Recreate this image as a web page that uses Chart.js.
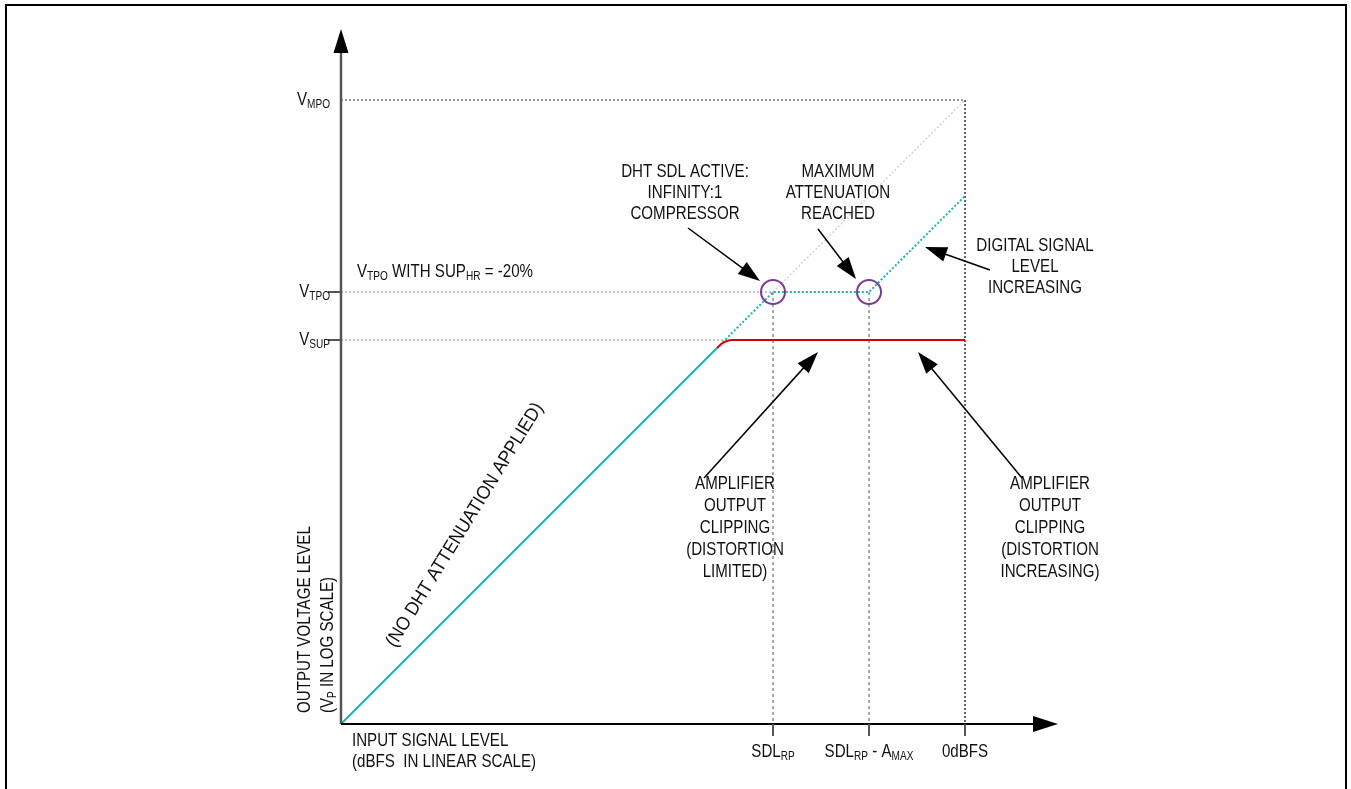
<!DOCTYPE html>
<html>
<head>
<meta charset="utf-8">
<script src="https://cdn.jsdelivr.net/npm/chart.js@4"></script>
<style>
  html, body { margin: 0; background: #fff; }
  canvas { display: block; }
</style>
</head>
<body>
<canvas id="chart" width="1351" height="789"></canvas>
<script>
// both axes in drawing units: x = input level, y = output level
const noAttenX = [0, 376];
const noAttenY = [0, 376];
const clipX = [376, 381, 386, 392, 400, 624];
const clipY = [376, 380.5, 383, 384, 384, 384];
const digitalX = [376, 432, 528, 624];
const digitalY = [376, 432, 432, 528];
const unlimitedX = [432, 624];
const unlimitedY = [432, 624];

const xTickValues = [432, 528, 624];
const xTickLabels = ['SDL_{RP}', 'SDL_{RP} - A_{MAX}', '0dBFS'];
const yTickValues = [624, 432, 384];
const yTickLabels = ['V_{MPO}', 'V_{TPO}', 'V_{SUP}'];

const FONT = '"Liberation Sans Narrow", "Liberation Sans", Arial, sans-serif';
const NARROW = 0.84; // no narrow face installed, squeeze the regular one
const TEAL = '#1ab3ad';
const RED = '#d40000';

const pts = (xs, ys) => xs.map((x, i) => ({ x, y: ys[i] }));

// annotation boxes: text centre and arrow tail -> tip, in axis units
const notes = [
  { lines: ['DHT SDL ACTIVE:', 'INFINITY:1', 'COMPRESSOR'], x: 344, y: 552, step: 21, from: [347, 496], to: [419, 443] },
  { lines: ['MAXIMUM', 'ATTENUATION', 'REACHED'], x: 497, y: 552, step: 21, from: [477, 495], to: [515, 445] },
  { lines: ['DIGITAL SIGNAL', 'LEVEL', 'INCREASING'], x: 694, y: 478, step: 21, from: [649, 454], to: [584, 477] },
  { lines: ['AMPLIFIER', 'OUTPUT', 'CLIPPING', '(DISTORTION', 'LIMITED)'], x: 394, y: 240, step: 22, from: [363, 246], to: [477, 372] },
  { lines: ['AMPLIFIER', 'OUTPUT', 'CLIPPING', '(DISTORTION', 'INCREASING)'], x: 709, y: 240, step: 22, from: [681, 246], to: [577, 372] }
];

function drawRich(ctx, str, x, y, align, size, squeeze) {
  size = size || 18;
  squeeze = squeeze || NARROW;
  const sub = Math.round(size * 0.68);
  const parts = str.split(/(_\{[^}]*\})/).filter(s => s.length);
  const items = parts.map(p => p.startsWith('_{') ? { t: p.slice(2, -1), s: true } : { t: p, s: false });
  let w = 0;
  items.forEach(it => {
    ctx.font = (it.s ? sub : size) + 'px ' + FONT;
    it.w = ctx.measureText(it.t).width;
    w += it.w;
  });
  const sw = w * squeeze;
  const x0 = align === 'right' ? x - sw : align === 'center' ? x - sw / 2 : x;
  ctx.save();
  ctx.translate(x0, y);
  ctx.scale(squeeze, 1);
  ctx.textAlign = 'left';
  ctx.textBaseline = 'middle';
  let cx = 0;
  items.forEach(it => {
    ctx.font = (it.s ? sub : size) + 'px ' + FONT;
    ctx.fillText(it.t, cx, it.s ? size * 0.25 : 0);
    cx += it.w;
  });
  ctx.restore();
}

function arrowHead(ctx, x0, y0, x1, y1, len, half) {
  const a = Math.atan2(y1 - y0, x1 - x0);
  ctx.beginPath();
  ctx.moveTo(x1, y1);
  ctx.lineTo(x1 - len * Math.cos(a) + half * Math.sin(a), y1 - len * Math.sin(a) - half * Math.cos(a));
  ctx.lineTo(x1 - len * Math.cos(a) - half * Math.sin(a), y1 - len * Math.sin(a) + half * Math.cos(a));
  ctx.closePath();
  ctx.fill();
}

const backgroundPlugin = {
  id: 'background',
  beforeDraw(chart) {
    const ctx = chart.ctx;
    ctx.save();
    ctx.fillStyle = '#fff';
    ctx.fillRect(0, 0, chart.width, chart.height);
    ctx.restore();
  }
};

const decorPlugin = {
  id: 'decor',
  afterDatasetsDraw(chart) {
    const ctx = chart.ctx;
    const xs = chart.scales.x, ys = chart.scales.y;
    const px = v => xs.getPixelForValue(v);
    const py = v => ys.getPixelForValue(v);
    const ox = px(0), oy = py(0);
    ctx.save();

    // frame
    ctx.strokeStyle = '#000';
    ctx.lineWidth = 2;
    ctx.strokeRect(6, 5, chart.width - 11, chart.height + 10);

    // axes
    ctx.fillStyle = '#000';
    ctx.strokeStyle = '#555';
    ctx.lineWidth = 2.5;
    ctx.beginPath();
    ctx.moveTo(ox, oy);
    ctx.lineTo(ox, py(ys.max) + 20);
    ctx.stroke();
    arrowHead(ctx, ox, oy, ox, py(ys.max), 24, 7.5);
    ctx.strokeStyle = '#000';
    ctx.lineWidth = 2;
    ctx.beginPath();
    ctx.moveTo(ox, oy);
    ctx.lineTo(px(xs.max) - 20, oy);
    ctx.stroke();
    arrowHead(ctx, ox, oy, px(xs.max), oy, 25, 8);

    // tick marks
    ctx.strokeStyle = '#555';
    ctx.lineWidth = 2;
    xTickValues.forEach(v => {
      ctx.beginPath();
      ctx.moveTo(px(v), oy);
      ctx.lineTo(px(v), oy + 12);
      ctx.stroke();
    });
    yTickValues.forEach((v, i) => {
      if (i === 0) return;
      ctx.beginPath();
      ctx.moveTo(ox - 13, py(v));
      ctx.lineTo(ox, py(v));
      ctx.stroke();
    });

    // tick labels
    ctx.fillStyle = '#111';
    xTickLabels.forEach((t, i) => drawRich(ctx, t, px(xTickValues[i]), oy + 28, 'center'));
    yTickLabels.forEach((t, i) => drawRich(ctx, t, ox - 11, py(yTickValues[i]), 'right'));

    // axis titles
    drawRich(ctx, 'INPUT SIGNAL LEVEL', ox + 11, oy + 17, 'left');
    drawRich(ctx, '(dBFS  IN LINEAR SCALE)', ox + 11, oy + 38, 'left');
    ctx.save();
    ctx.translate(ox - 36, oy - 11);
    ctx.rotate(-Math.PI / 2);
    drawRich(ctx, 'OUTPUT VOLTAGE LEVEL', 0, 0, 'left');
    ctx.translate(0, 23);
    drawRich(ctx, '(V_{P} IN LOG SCALE)', 0, 0, 'left');
    ctx.restore();

    drawRich(ctx, 'V_{TPO} WITH SUP_{HR} = -20%', px(16), py(452), 'left');

    ctx.save();
    ctx.translate(px(124), py(199));
    ctx.rotate(-Math.atan2(260, 160));
    drawRich(ctx, '(NO DHT ATTENUATION APPLIED)', 0, 0, 'center', 19, 0.92);
    ctx.restore();

    // notes with arrows
    notes.forEach(n => {
      n.lines.forEach((l, i) => drawRich(ctx, l, px(n.x), py(n.y) + i * n.step, 'center'));
      const x0 = px(n.from[0]), y0 = py(n.from[1]);
      const x1 = px(n.to[0]), y1 = py(n.to[1]);
      const a = Math.atan2(y1 - y0, x1 - x0);
      ctx.strokeStyle = '#000';
      ctx.lineWidth = 1.5;
      ctx.beginPath();
      ctx.moveTo(x0, y0);
      ctx.lineTo(x1 - 15 * Math.cos(a), y1 - 15 * Math.sin(a));
      ctx.stroke();
      ctx.fillStyle = '#000';
      arrowHead(ctx, x0, y0, x1, y1, 22, 7.5);
      ctx.fillStyle = '#111';
    });
    ctx.restore();
  }
};

const refDark = { borderColor: '#333', borderWidth: 1, borderDash: [2, 2] };
const refGrey = { borderColor: '#8a8a8a', borderWidth: 1, borderDash: [2, 2] };
const refDrop = { borderColor: '#a8a8a8', borderWidth: 2, borderDash: [3, 3] };

function line(data, style) {
  return Object.assign({ data, showLine: true, pointRadius: 0, fill: false, tension: 0, clip: false }, style);
}

const mpo = yTickValues[0], tpo = yTickValues[1], sup = yTickValues[2];
const sdl = xTickValues[0], amax = xTickValues[1], full = xTickValues[2];

new Chart(document.getElementById('chart').getContext('2d'), {
  type: 'scatter',
  plugins: [backgroundPlugin, decorPlugin],
  data: {
    datasets: [
      Object.assign(line(pts([sdl, amax], [tpo, tpo]), {}), {
        showLine: false, pointRadius: 12, pointHoverRadius: 12, pointBorderWidth: 2,
        pointBorderColor: '#7b3a96', pointBackgroundColor: 'rgba(0,0,0,0)'
      }),
      line(pts(noAttenX, noAttenY), { borderColor: TEAL, borderWidth: 2 }),
      line(pts(clipX, clipY), { borderColor: RED, borderWidth: 2, cubicInterpolationMode: 'monotone' }),
      line(pts(digitalX, digitalY), { borderColor: TEAL, borderWidth: 2, borderDash: [2, 2] }),
      line(pts(unlimitedX, unlimitedY), { borderColor: '#d4d4d4', borderWidth: 1.5, borderDash: [2, 2] }),
      line(pts([0, full], [mpo, mpo]), refDark),
      line(pts([full, full], [mpo, 0]), Object.assign({}, refDark, { borderWidth: 1.5 })),
      line(pts([0, sdl], [tpo, tpo]), refGrey),
      line(pts([0, clipX[4]], [sup, sup]), refGrey),
      line(pts([sdl, sdl], [tpo, 0]), refDrop),
      line(pts([amax, amax], [tpo, 0]), refDrop)
    ]
  },
  options: {
    responsive: false,
    animation: false,
    events: [],
    layout: { padding: { left: 341, right: 293, top: 29, bottom: 65 } },
    plugins: { legend: { display: false }, tooltip: { enabled: false } },
    scales: {
      x: { type: 'linear', min: 0, max: 717, display: false },
      y: { type: 'linear', min: 0, max: 695, display: false }
    }
  }
});
</script>
</body>
</html>
